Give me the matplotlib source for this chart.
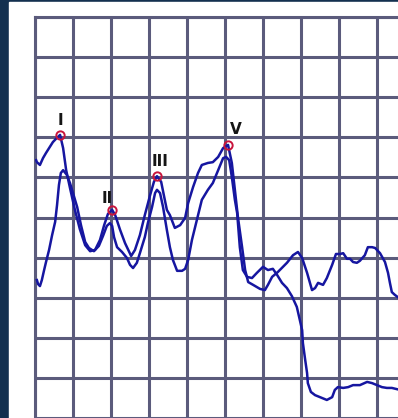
import numpy as np
import matplotlib
matplotlib.use("Agg")
import matplotlib.pyplot as plt
from matplotlib.patches import Rectangle

# Two overlaid evoked-response traces, time in ms, amplitude in grid divisions
t_upper = [0.03, 0.05, 0.13, 0.21, 0.29, 0.39, 0.47, 0.55, 0.66, 0.74,
           0.82, 0.92, 1.05, 1.18, 1.32, 1.45, 1.58, 1.71, 1.82, 1.92,
           2.03, 2.11, 2.24, 2.37, 2.53, 2.63, 2.76, 2.89, 3.03, 3.13,
           3.21, 3.32, 3.39, 3.47, 3.55, 3.68, 3.82, 3.95, 4.03, 4.16,
           4.29, 4.39, 4.55, 4.68, 4.82, 4.95, 5.08, 5.18, 5.26, 5.34,
           5.45, 5.53, 5.61, 5.74, 5.92, 6.05, 6.13, 6.24, 6.39, 6.63,
           6.79, 6.92, 7.03, 7.16, 7.29, 7.37, 7.45, 7.58, 7.68, 7.82,
           7.92, 8.03, 8.11, 8.21, 8.29, 8.37, 8.47, 8.55, 8.68, 8.76,
           8.87, 8.95, 9.08, 9.21, 9.29, 9.34, 9.39, 9.47, 9.61]
a_upper = [6.43, 6.38, 6.31, 6.48, 6.61, 6.76, 6.88, 6.96, 7.06, 6.73,
           6.18, 5.74, 5.19, 4.71, 4.31, 4.16, 4.19, 4.44, 4.81, 5.09,
           5.19, 5.06, 4.69, 4.36, 4.04, 4.19, 4.56, 5.06, 5.56, 5.89,
           6.03, 5.89, 5.56, 5.19, 5.06, 4.74, 4.81, 4.99, 5.36, 5.76,
           6.11, 6.31, 6.36, 6.38, 6.51, 6.73, 6.81, 6.36, 5.69, 5.01,
           4.26, 3.69, 3.39, 3.32, 3.22, 3.19, 3.32, 3.52, 3.64, 3.87,
           4.06, 4.14, 3.99, 3.62, 3.19, 3.24, 3.37, 3.32, 3.49, 3.82,
           4.09, 4.09, 4.11, 3.97, 3.97, 3.89, 3.87, 3.92, 4.06, 4.26,
           4.26, 4.24, 4.11, 3.89, 3.62, 3.37, 3.14, 3.07, 2.97]

t_lower = [0.05, 0.08, 0.13, 0.18, 0.24, 0.29, 0.37, 0.45, 0.53, 0.58,
           0.63, 0.68, 0.74, 0.84, 0.92, 1.00, 1.11, 1.21, 1.32, 1.42,
           1.55, 1.68, 1.79, 1.89, 1.97, 2.03, 2.08, 2.16, 2.29, 2.42,
           2.50, 2.58, 2.68, 2.76, 2.89, 2.97, 3.08, 3.16, 3.21, 3.29,
           3.37, 3.47, 3.55, 3.63, 3.74, 3.87, 3.95, 4.03, 4.13, 4.26,
           4.39, 4.55, 4.68, 4.82, 4.95, 5.03, 5.11, 5.18, 5.26, 5.32,
           5.39, 5.47, 5.58, 5.71, 5.84, 6.00, 6.13, 6.26, 6.37, 6.50,
           6.63, 6.76, 6.89, 6.97, 7.03, 7.05, 7.11, 7.16, 7.18, 7.26,
           7.37, 7.50, 7.68, 7.82, 7.89, 7.97, 8.11, 8.24, 8.37, 8.55,
           8.74, 8.87, 9.00, 9.13, 9.26, 9.39, 9.61]
a_lower = [3.44, 3.34, 3.29, 3.44, 3.69, 3.89, 4.19, 4.56, 4.89, 5.31,
           5.81, 6.11, 6.18, 6.06, 5.86, 5.61, 5.26, 4.81, 4.39, 4.24,
           4.16, 4.29, 4.54, 4.79, 4.86, 4.79, 4.51, 4.26, 4.14, 3.99,
           3.82, 3.74, 3.87, 4.11, 4.51, 4.86, 5.26, 5.61, 5.69, 5.61,
           5.26, 4.69, 4.26, 3.94, 3.67, 3.67, 3.72, 3.94, 4.44, 4.94,
           5.44, 5.69, 5.86, 6.18, 6.48, 6.51, 6.43, 6.01, 5.44, 5.11,
           4.26, 3.69, 3.52, 3.49, 3.62, 3.77, 3.69, 3.72, 3.57, 3.37,
           3.24, 3.04, 2.77, 2.44, 2.19, 1.87, 1.45, 1.12, 0.87, 0.65,
           0.57, 0.52, 0.45, 0.52, 0.70, 0.77, 0.75, 0.77, 0.82, 0.82,
           0.90, 0.87, 0.82, 0.77, 0.75, 0.75, 0.70]

# Wave peaks marked on the upper trace
peak_names = ["I", "II", "III", "V"]
peak_times = [0.66, 2.03, 3.21, 5.08]
# label offsets in pixels from each peak marker
label_dx = [0, -5, 3, 8]
label_dy = [7, 4, 7, 8]

W, H = 398, 418
fig = plt.figure(figsize=(W / 100, H / 100), dpi=100)
fig.patch.set_facecolor("#13304f")
# white sheet behind the grid, leaving a navy margin on the left and top
fig.patches.append(Rectangle((9 / W, 0), 1, (H - 2) / H,
                             transform=fig.transFigure, color="white", zorder=-5))

ax = fig.add_axes([35 / W, 0, (W - 35) / W, (H - 17) / H])
ax.set_facecolor("white")
ax.set_xlim(0, (W - 35) / 38)
ax.set_ylim(0, 10)

grid_color = "#5b5b7c"
ax.set_xticks(np.arange(0, 10))
ax.set_yticks(np.arange(0, 11))
ax.tick_params(length=0, labelbottom=False, labelleft=False)
ax.grid(True, color=grid_color, linewidth=2.2)
for side in ["right", "bottom"]:
    ax.spines[side].set_visible(False)
for side in ["left", "top"]:
    ax.spines[side].set_color(grid_color)
    ax.spines[side].set_linewidth(2.2)

trace_color = "#1616a0"
ax.plot(t_upper, a_upper, color=trace_color, linewidth=1.8, zorder=3)
ax.plot(t_lower, a_lower, color=trace_color, linewidth=1.8, zorder=3)

peak_amps = np.interp(peak_times, t_upper, a_upper)
ax.plot(peak_times, peak_amps, "o", mfc="none", mec="#c8143c",
        ms=6, mew=1.4, zorder=4)
for name, t, a, dx, dy in zip(peak_names, peak_times, peak_amps, label_dx, label_dy):
    ax.annotate(name, (t, a), xytext=(dx, dy), textcoords="offset pixels",
                ha="center", va="bottom", fontsize=11, fontweight="bold",
                color="#151515", zorder=5)

fig.savefig("out.png", dpi=100, facecolor=fig.get_facecolor())
